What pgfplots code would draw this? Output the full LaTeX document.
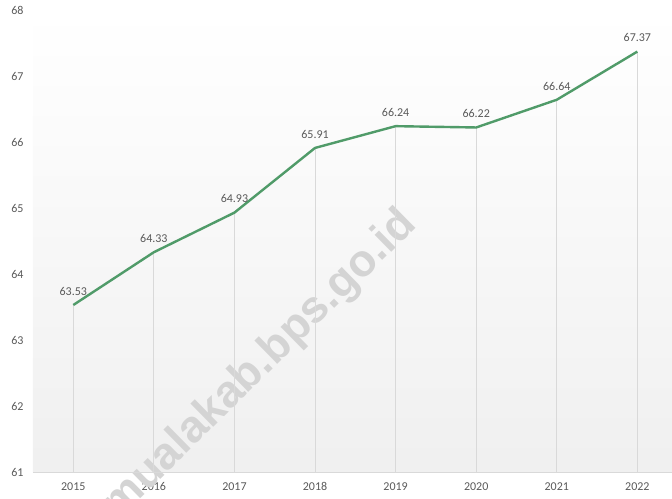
\documentclass[border=0pt]{standalone}
\usepackage{pgfplots}
\pgfplotsset{compat=1.18}
\usepackage{fontspec}
\setmainfont{Carlito}
\newfontfamily\wmfont{Liberation Sans}
\definecolor{txt}{HTML}{595959}
\definecolor{linegreen}{RGB}{80,155,105}
\definecolor{grid}{HTML}{D9D9D9}
\begin{document}
\begin{tikzpicture}[x=1pt,y=1pt]
\begin{axis}[
    scale only axis,
    width=639pt, height=462pt,
    xmin=-0.5, xmax=7.43,
    ymin=61, ymax=68,
    xtick={0,1,2,3,4,5,6,7},
    xticklabels={2015,2016,2017,2018,2019,2020,2021,2022},
    ytick={61,62,...,68},
    major tick length=0pt,
    axis line style={draw=none},
    axis background/.style={top color=white, bottom color=black!6},
    tick label style={font=\fontsize{12}{14}\selectfont, text=txt},
    /pgf/number format/assume math mode=true,
    yticklabel style={xshift=-6pt},
    xticklabel style={yshift=-7pt},
    clip=false,
]
% watermark
\node[rotate=44.5, text=black!17, font=\wmfont\bfseries\fontsize{45}{45}\selectfont]
    at (axis cs:2.32,62.62) {mualakab.bps.go.id};
% drop lines
\addplot[ycomb, draw=grid, line width=0.8pt, forget plot] coordinates {
    (0,63.53) (1,64.33) (2,64.93) (3,65.91) (4,66.24) (5,66.22) (6,66.64) (7,67.37)
};
% bottom axis line
\draw[grid, line width=0.8pt] (axis cs:-0.5,61) -- (axis cs:7.43,61);
\addplot[linegreen, line width=2.4pt, line join=round, mark=none,
    nodes near coords,
    every node near coord/.append style={font=\fontsize{12}{14}\selectfont, text=txt, yshift=5pt},
    point meta=explicit symbolic] coordinates {
    (0,63.53) [63.53]
    (1,64.33) [64.33]
    (2,64.93) [64.93]
    (3,65.91) [65.91]
    (4,66.24) [66.24]
    (5,66.22) [66.22]
    (6,66.64) [66.64]
    (7,67.37) [67.37]
};
\coordinate (bl) at (rel axis cs:0,0);
\coordinate (tr) at (rel axis cs:1,1);
\end{axis}
\pgfresetboundingbox
\path[use as bounding box] ([xshift=-33pt,yshift=-27pt]bl) rectangle ([yshift=10pt]tr);
\end{tikzpicture}
\end{document}
